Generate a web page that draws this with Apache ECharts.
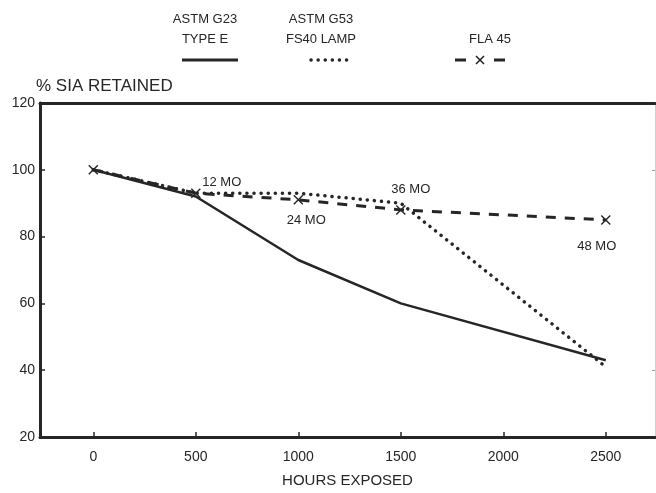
<!DOCTYPE html>
<html>
<head>
<meta charset="utf-8">
<script src="https://cdn.jsdelivr.net/npm/echarts@6/dist/echarts.min.js"></script>
<style>
  html, body { margin: 0; padding: 0; background: #ffffff; }
  #chart { width: 656px; height: 493px; }
</style>
</head>
<body>
<div id="chart"></div>
<script>
// Hours of exposure at which each sample was measured
const hours = [0, 500, 1000, 1500, 2500];
// % SIA retained for each exposure method
const astmG23TypeE = [100, 92, 73, 60, 43];
const astmG53Fs40 = [100, 93, 93, 90, 41];
const fla45 = [100, 93, 91, 88, 85];
// Outdoor exposure months marked on the FLA 45 curve
const monthLabels = ['', '12 MO', '24 MO', '36 MO', '48 MO'];
// Axis ticks
const xTicks = [0, 500, 1000, 1500, 2000, 2500];
const yTicks = [20, 40, 60, 80, 100, 120];

const ink = '#262626';
const font = '"Liberation Sans", Arial, Helvetica, sans-serif';
const crossPath = 'path://M1,0L5,4L9,0L10,1L6,5L10,9L9,10L5,6L1,10L0,9L4,5L0,1Z';

const labelOffsets = [[0, 0], [26, -11], [8, 21], [10, -20], [-9, 27]];

function pairs(vals) { return hours.map((h, i) => [h, vals[i]]); }

function legendText(x, y, text) {
  return { type: 'text', x: x, y: y, style: { text: text, font: '13px ' + font, fill: ink, align: 'center', verticalAlign: 'top', lineHeight: 20 } };
}
function legendLine(x1, x2, y, extra) {
  return { type: 'line', shape: { x1: x1, y1: y, x2: x2, y2: y }, style: Object.assign({ stroke: ink, lineWidth: 3 }, extra || {}) };
}

const chart = echarts.init(document.getElementById('chart'), null, { renderer: 'canvas' });

chart.setOption({
  backgroundColor: '#ffffff',
  animation: false,
  textStyle: { fontFamily: font, color: ink },
  grid: { left: 40, right: 1, top: 103, bottom: 55 },
  xAxis: [{
    type: 'value',
    min: -260, max: 2740,
    name: 'HOURS EXPOSED',
    nameLocation: 'middle',
    nameGap: 36,
    nameTextStyle: { fontSize: 15, color: ink, fontFamily: font },
    axisLine: { show: true, onZero: false, lineStyle: { color: ink, width: 3 } },
    axisTick: { show: true, inside: true, length: 5, customValues: xTicks, lineStyle: { color: ink, width: 1.5 } },
    axisLabel: { customValues: xTicks, formatter: v => String(v), fontSize: 14, color: ink, margin: 13, fontFamily: font },
    splitLine: { show: false }
  }, {
    type: 'value', position: 'top',
    min: -260, max: 2740,
    axisLine: { show: true, onZero: false, lineStyle: { color: ink, width: 3 } },
    axisTick: { show: false }, axisLabel: { show: false }, splitLine: { show: false }
  }],
  yAxis: [{
    type: 'value',
    min: 20, max: 120, interval: 20,
    name: '% SIA RETAINED',
    nameLocation: 'end',
    nameGap: 8,
    nameTextStyle: { fontSize: 17, color: ink, align: 'left', padding: [0, 0, 0, -4], fontFamily: font },
    axisLine: { show: true, onZero: false, lineStyle: { color: ink, width: 3 } },
    axisTick: { show: true, inside: true, length: 5, lineStyle: { color: ink, width: 1.5 } },
    axisLabel: { formatter: v => String(v), fontSize: 14, color: ink, margin: 5, fontFamily: font },
    splitLine: { show: false }
  }, {
    type: 'value', position: 'right',
    min: 20, max: 120,
    axisLine: { show: true, onZero: false, lineStyle: { color: '#cfcfcf', width: 1 } },
    axisTick: { show: true, inside: true, length: 3, customValues: [40, 100], lineStyle: { color: '#999', width: 1 } },
    axisLabel: { show: false }, splitLine: { show: false }
  }],
  graphic: [
    legendText(205, 9, 'ASTM G23\nTYPE E'),
    legendLine(182, 238, 60),
    legendText(321, 9, 'ASTM G53\nFS40 LAMP'),
    legendLine(311, 350, 60, { lineWidth: 3.5, lineDash: [0.1, 7], lineCap: 'round' }),
    legendText(490, 29, 'FLA 45'),
    legendLine(455, 466, 60),
    legendLine(494, 505, 60),
    { type: 'line', shape: { x1: 476, y1: 56, x2: 484, y2: 64 }, style: { stroke: ink, lineWidth: 1.6 } },
    { type: 'line', shape: { x1: 484, y1: 56, x2: 476, y2: 64 }, style: { stroke: ink, lineWidth: 1.6 } }
  ],
  series: [
    {
      name: 'ASTM G23 TYPE E',
      type: 'line',
      data: pairs(astmG23TypeE),
      symbol: 'none',
      lineStyle: { color: ink, width: 2.5 },
      z: 3
    },
    {
      name: 'ASTM G53 FS40 LAMP',
      type: 'line',
      data: pairs(astmG53Fs40),
      symbol: 'none',
      lineStyle: { color: ink, width: 3.5, type: [0.1, 7], cap: 'round' },
      z: 4
    },
    {
      name: 'FLA 45',
      type: 'line',
      data: pairs(fla45).map((p, i) => ({
        value: p,
        label: {
          show: monthLabels[i] !== '',
          formatter: monthLabels[i],
          position: 'inside',
          offset: labelOffsets[i],
          fontSize: 13,
          color: ink,
          fontFamily: font
        }
      })),
      symbol: crossPath,
      symbolSize: 10,
      itemStyle: { color: ink },
      lineStyle: { color: ink, width: 3, type: [10, 9] },
      z: 5
    }
  ]
});
</script>
</body>
</html>
